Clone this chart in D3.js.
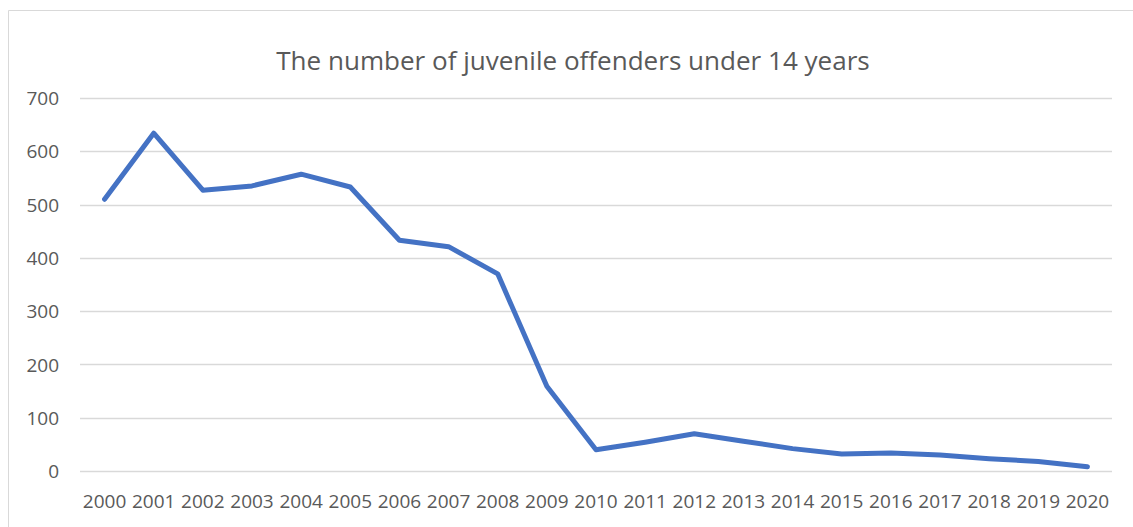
<!DOCTYPE html>
<html>
<head>
<meta charset="utf-8">
<script src="https://cdn.jsdelivr.net/npm/d3@7"></script>
<style>
  body { margin: 0; background: #fff; }
  text { font-family: "Open Sans", sans-serif; fill: #595959; }
</style>
</head>
<body>
<div class="chart"></div>
<script>
const years = ["2000","2001","2002","2003","2004","2005","2006","2007","2008","2009","2010",
  "2011","2012","2013","2014","2015","2016","2017","2018","2019","2020"];
const offenders = [510, 634, 527, 535, 557, 533, 433, 421, 370, 159, 40,
  54, 70, 56, 42, 32, 34, 30, 23, 18, 8];
const yTicks = [0, 100, 200, 300, 400, 500, 600, 700];
const title = "The number of juvenile offenders under 14 years";

const W = 1133, H = 527;
let margin = {top: 98, bottom: 56, left: 80, right: 21};
const width = W - margin.left - margin.right,
  height = H - margin.top - margin.bottom;

const svg = d3.select(".chart").append("svg")
  .attr("width", W)
  .attr("height", H);

// chart frame (right and bottom edges are cropped off)
svg.append("path")
  .attr("d", "M8.5,527 V10.5 H1133")
  .attr("fill", "none")
  .attr("stroke", "#d9d9d9")
  .attr("stroke-width", 1);

const g = svg.append("g")
  .attr("transform", "translate(" + margin.left + "," + margin.top + ")");

let xScale = d3.scaleBand()
  .domain(years)
  .range([0, width]);

let yScale = d3.scaleLinear()
  .domain([0, 700])
  .range([height, 0]);

// gridlines
g.selectAll(".grid")
  .data(yTicks)
  .enter()
  .append("line")
  .attr("x1", 0)
  .attr("x2", width)
  .attr("y1", d => Math.round(yScale(d)) + 0.5)
  .attr("y2", d => Math.round(yScale(d)) + 0.5)
  .attr("stroke", "#d9d9d9")
  .attr("stroke-width", 1.5);

let yAxis = d3.axisLeft(yScale).tickValues(yTicks).tickSize(0).tickPadding(21);
let xAxis = d3.axisBottom(xScale).tickSize(0).tickPadding(24);

g.append("g").attr("class", "axis y-axis").call(yAxis)
  .call(a => a.select(".domain").remove());
g.append("g").attr("class", "axis x-axis")
  .attr("transform", `translate(0, ${height})`)
  .call(xAxis)
  .call(a => a.select(".domain").remove());

g.selectAll(".axis text")
  .style("font-family", "'Open Sans', sans-serif")
  .style("font-size", "19px")
  .style("fill", "#595959");
g.selectAll(".y-axis text").attr("dy", "0.35em");
g.selectAll(".x-axis text").attr("dy", "0.7em");

const line = d3.line()
  .x((d, i) => xScale(years[i]) + xScale.bandwidth() / 2)
  .y(d => yScale(d));

g.append("path")
  .datum(offenders)
  .attr("d", line)
  .attr("fill", "none")
  .attr("stroke", "#4472c4")
  .attr("stroke-width", 5)
  .attr("stroke-linejoin", "round")
  .attr("stroke-linecap", "round");

// title, fitted to the width seen in the reference
const t = svg.append("text")
  .attr("x", 573)
  .attr("y", 70)
  .attr("text-anchor", "middle")
  .style("font-size", "24px")
  .text(title);
const len = t.node().getComputedTextLength();
t.style("font-size", (24 * 594 / len) + "px");
</script>
</body>
</html>
